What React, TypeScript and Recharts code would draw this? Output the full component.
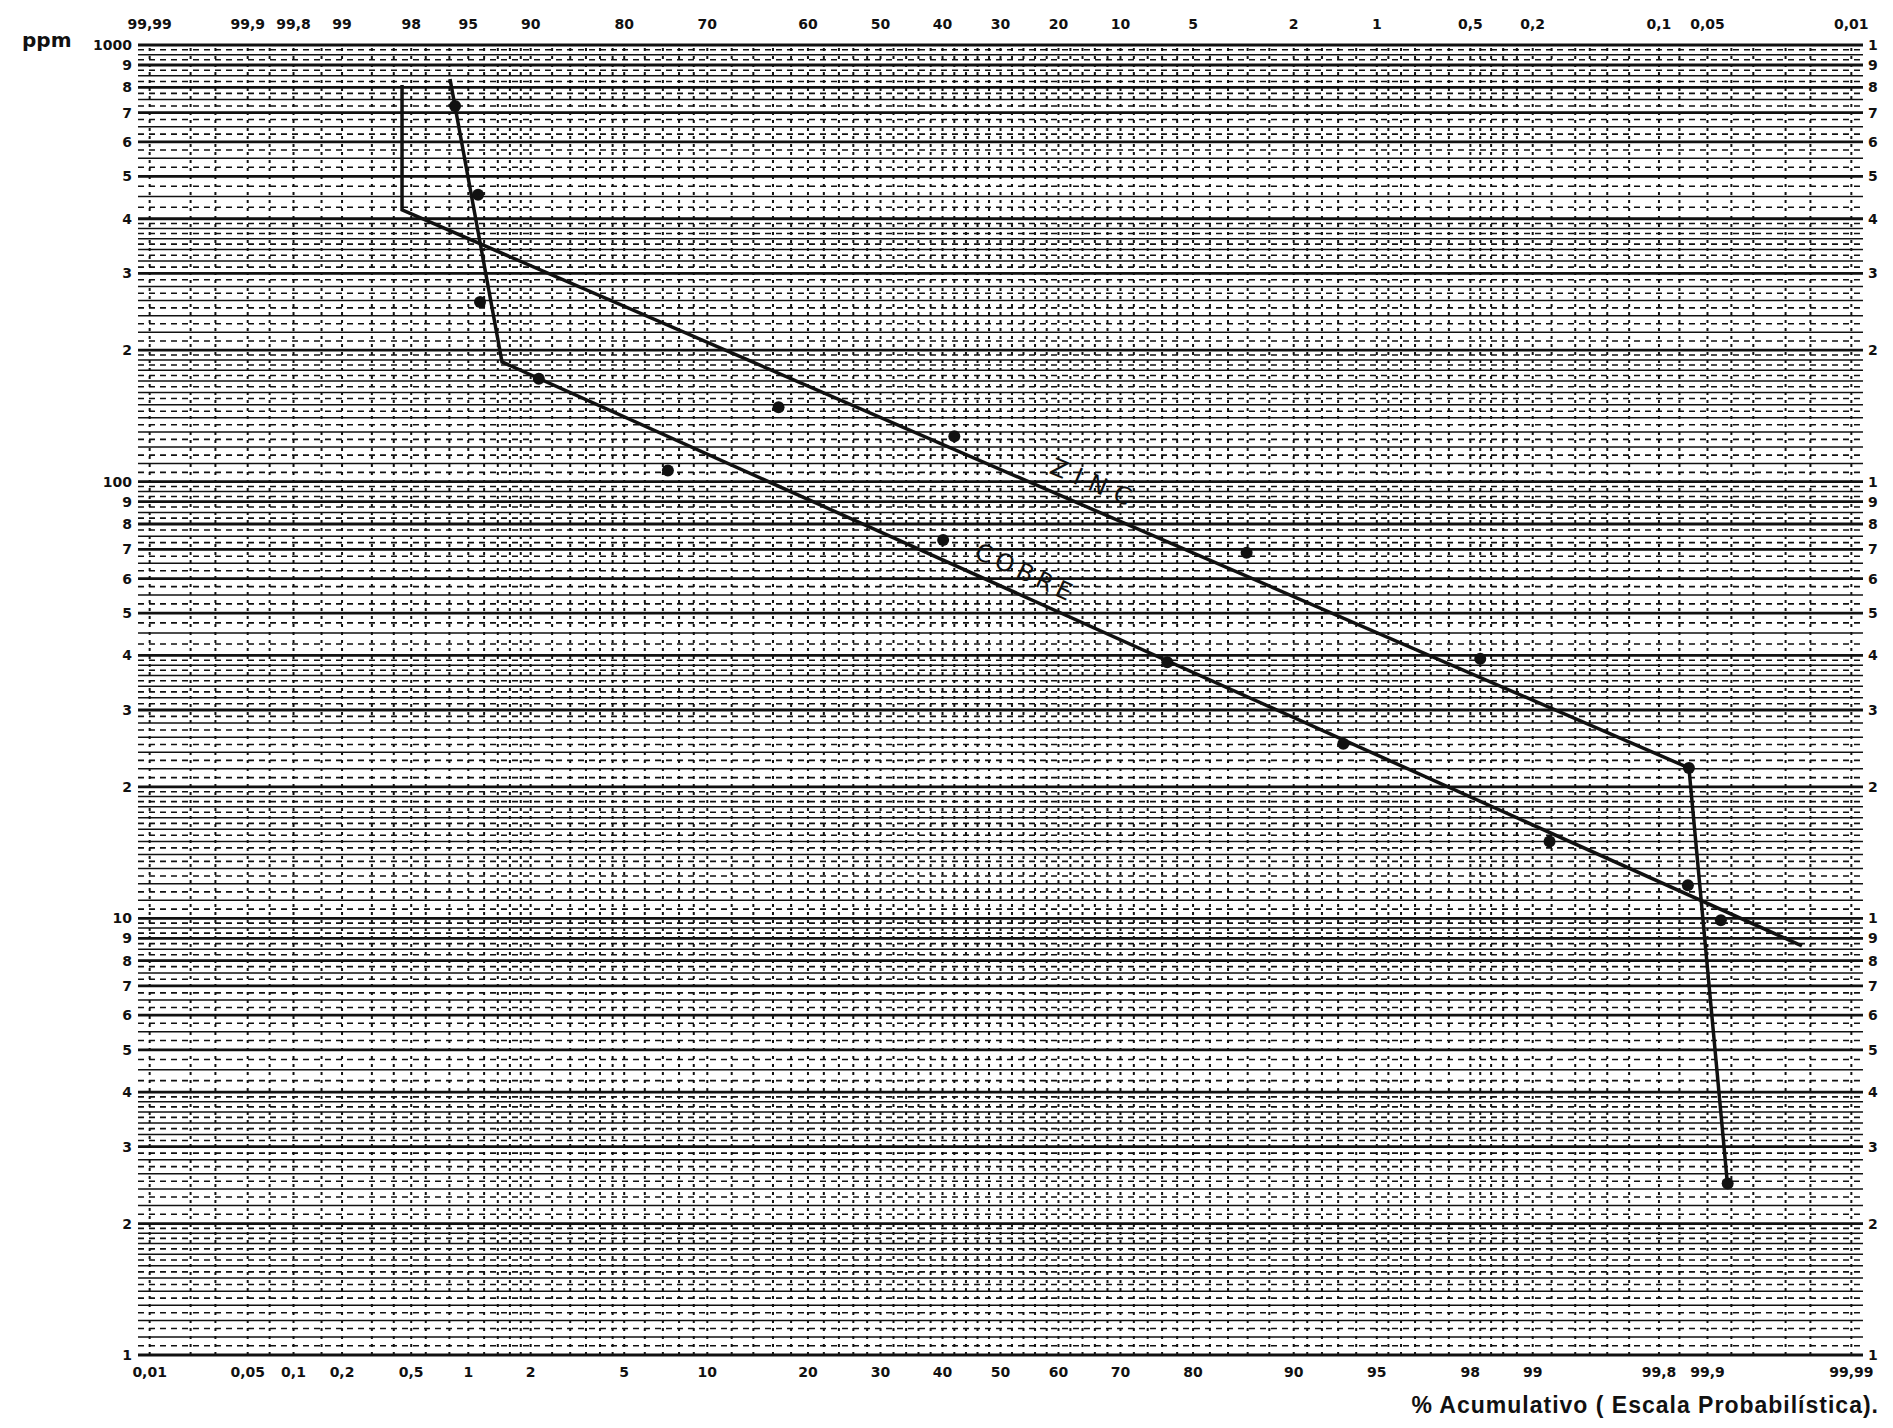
import {
  ComposedChart,
  Line,
  ReferenceDot,
  ReferenceLine,
  Scatter,
  XAxis,
  YAxis,
} from "recharts"

// cumulative %, ppm off the log axis
const zincLinePct = [0.445, 0.445, 99.869, 99.926]
const zincLinePpm = [810, 419, 22.1, 2.43]

const cobreLinePct = [0.806, 1.467, 99.977]
const cobreLinePpm = [836, 188, 8.65]

const zincPointPct = [16.6, 42.0, 85.9, 98.2, 99.869, 99.926]
const zincPointPpm = [148, 127, 68.7, 39.3, 22.1, 2.47]

const cobrePointPct = [0.856, 1.12, 1.145, 2.18, 7.3, 40.1, 76.7, 93.3, 99.18, 99.867, 99.918]
const cobrePointPpm = [725, 454, 258, 172, 106, 73.5, 38.6, 25.1, 15.0, 11.9, 9.9]

// axis labels
const bottomPct = [0.01, 0.05, 0.1, 0.2, 0.5, 1, 2, 5, 10, 20, 30, 40, 50, 60, 70, 80, 90, 95, 98, 99, 99.8, 99.9, 99.99]
const bottomLabels = ["0,01", "0,05", "0,1", "0,2", "0,5", "1", "2", "5", "10", "20", "30", "40", "50", "60", "70", "80", "90", "95", "98", "99", "99,8", "99,9", "99,99"]
const topLabels = ["99,99", "99,9", "99,8", "99", "98", "95", "90", "80", "70", "60", "50", "40", "30", "20", "10", "5", "2", "1", "0,5", "0,2", "0,1", "0,05", "0,01"]
const yTicks = [1, 2, 3, 4, 5, 6, 7, 8, 9, 10, 20, 30, 40, 50, 60, 70, 80, 90, 100, 200, 300, 400, 500, 600, 700, 800, 900, 1000]

// probability paper rulings
const decades = [1, 10, 100]
const majorMantissa = [1, 2, 3, 4, 5, 6, 7, 8, 9]
const minorMantissa = [1.1, 1.2, 1.3, 1.4, 1.5, 1.6, 1.7, 1.8, 1.9, 2.2, 2.4, 2.6, 2.8, 3.2, 3.4, 3.6, 3.8, 4.5, 5.5, 6.5, 7.5, 8.5, 9.5]
const dashMantissa = [1.05, 1.15, 1.25, 1.35, 1.45, 1.55, 1.65, 1.75, 1.85, 1.95, 2.1, 2.3, 2.5, 2.7, 2.9, 3.1, 3.3, 3.5, 3.7, 3.9, 4.25, 4.75, 5.25, 5.75, 6.25, 6.75, 7.25, 7.75, 8.25, 8.75, 9.25, 9.75]
const lowerVerticalPct = [0.01, 0.02, 0.03, 0.05, 0.07, 0.1, 0.15, 0.2, 0.3, 0.4, 0.5, 0.6, 0.8, 1, 1.2, 1.4, 1.6, 1.8, 2, 2.5, 3, 3.5, 4, 4.5, 5, 6, 7, 8, 9, 10, 12, 14, 16, 18, 20, 22, 24, 26, 28, 30, 32, 34, 36, 38, 40, 42, 44, 46, 48, 50]

// inverse normal cdf (Acklam), percent -> z
function probit(pct: number) {
  const p = pct / 100
  const a = [-39.69683028665376, 220.9460984245205, -275.9285104469687, 138.357751867269, -30.66479806614716, 2.506628277459239]
  const b = [-54.47609879822406, 161.5858368580409, -155.6989798598866, 66.80131188771972, -13.28068155288572]
  const c = [-0.007784894002430293, -0.3223964580411365, -2.400758277161838, -2.549732539343734, 4.374664141464968, 2.938163982698783]
  const d = [0.007784695709041462, 0.3224671290700398, 2.445134137142996, 3.754408661907416]
  const tail = (q: number) =>
    (((((c[0] * q + c[1]) * q + c[2]) * q + c[3]) * q + c[4]) * q + c[5]) /
    ((((d[0] * q + d[1]) * q + d[2]) * q + d[3]) * q + 1)
  if (p < 0.02425) return tail(Math.sqrt(-2 * Math.log(p)))
  if (p > 1 - 0.02425) return -tail(Math.sqrt(-2 * Math.log(1 - p)))
  const q = p - 0.5
  const r = q * q
  return (
    ((((((a[0] * r + a[1]) * r + a[2]) * r + a[3]) * r + a[4]) * r + a[5]) * q) /
    (((((b[0] * r + b[1]) * r + b[2]) * r + b[3]) * r + b[4]) * r + 1)
  )
}

const toRows = (pct: number[], ppm: number[]) => pct.map((p, i) => ({ z: probit(p), ppm: ppm[i] }))

const zincLine = toRows(zincLinePct, zincLinePpm)
const cobreLine = toRows(cobreLinePct, cobreLinePpm)
const zincPoints = toRows(zincPointPct, zincPointPpm)
const cobrePoints = toRows(cobrePointPct, cobrePointPpm)

const xTicks = bottomPct.map(probit)
const verticalZ = [...lowerVerticalPct, ...lowerVerticalPct.slice(0, -1).map((p) => 100 - p)].map(probit)
const majorY = [...decades.flatMap((d) => majorMantissa.map((m) => m * d)), 1000]
const minorY = decades.flatMap((d) => minorMantissa.map((m) => m * d))
const dashY = decades.flatMap((d) => dashMantissa.map((m) => m * d))

const Z_MAX = 3.77
const ink = "#111"
const tickFont = { fontSize: 14, fontWeight: 700, fill: ink, fontFamily: "DejaVu Sans" }

function mantissa(v: number) {
  return String(Math.round(v / Math.pow(10, Math.floor(Math.log10(v) + 1e-9))))
}

function leftLabel(v: number) {
  const isDecade = Math.abs(Math.log10(v) - Math.round(Math.log10(v))) < 1e-9
  return isDecade ? String(v) : mantissa(v)
}

const dotShape = (props: any) => <circle cx={props.cx} cy={props.cy} r={6} fill={ink} />

const curveLabel = (text: string, angle: number, spacing: number) => (props: any) => (
  <text
    x={props.cx}
    y={props.cy}
    dy={8}
    transform={`rotate(${angle} ${props.cx} ${props.cy})`}
    textAnchor="middle"
    fontSize={24}
    letterSpacing={spacing}
    fontFamily="DejaVu Sans"
    fill={ink}
  >
    {text}
  </text>
)

export default function App() {
  return (
    <div style={{ position: "relative", width: 1877, height: 1412 }}>
      <ComposedChart
        width={1877}
        height={1412}
        margin={{ top: 7, right: 0, bottom: 25, left: 60 }}
      >
        <XAxis
          dataKey="z"
          type="number"
          domain={[-Z_MAX, Z_MAX]}
          ticks={xTicks}
          interval={0}
          tickFormatter={(_v: number, i: number) => bottomLabels[i]}
          tick={tickFont}
          tickLine={false}
          axisLine={false}
          tickSize={0}
          tickMargin={12}
          height={40}
          allowDataOverflow
        />
        <XAxis
          xAxisId="top"
          dataKey="z"
          orientation="top"
          type="number"
          domain={[-Z_MAX, Z_MAX]}
          ticks={xTicks}
          interval={0}
          tickFormatter={(_v: number, i: number) => topLabels[i]}
          tick={tickFont}
          tickLine={false}
          axisLine={false}
          tickSize={0}
          tickMargin={16}
          height={30}
          allowDataOverflow
        />
        <YAxis
          type="number"
          scale="log"
          domain={[1, 1000]}
          ticks={yTicks}
          interval={0}
          tickFormatter={leftLabel}
          tick={tickFont}
          tickLine={false}
          axisLine={false}
          tickSize={0}
          tickMargin={6}
          width={70}
          allowDataOverflow
        />
        <YAxis
          yAxisId="right"
          orientation="right"
          type="number"
          scale="log"
          domain={[1, 1000]}
          ticks={yTicks}
          interval={0}
          tickFormatter={mantissa}
          tick={tickFont}
          tickLine={false}
          axisLine={false}
          tickSize={0}
          tickMargin={5}
          width={22}
          allowDataOverflow
        />

        {dashY.map((v) => (
          <ReferenceLine key={`d${v}`} y={v} stroke={ink} strokeWidth={1.6} strokeDasharray="6 5" />
        ))}
        {minorY.map((v) => (
          <ReferenceLine key={`m${v}`} y={v} stroke={ink} strokeWidth={1.5} />
        ))}
        {majorY.map((v) => (
          <ReferenceLine key={`M${v}`} y={v} stroke={ink} strokeWidth={2.8} />
        ))}
        {verticalZ.map((z) => (
          <ReferenceLine key={`v${z}`} x={z} stroke={ink} strokeWidth={2} strokeDasharray="3 5" />
        ))}

        <Line data={zincLine} dataKey="ppm" type="linear" stroke={ink} strokeWidth={3.5} dot={false} isAnimationActive={false} />
        <Line data={cobreLine} dataKey="ppm" type="linear" stroke={ink} strokeWidth={3.5} dot={false} isAnimationActive={false} />
        {/* same line bound to the top/right axes so they get a domain of their own */}
        <Line xAxisId="top" yAxisId="right" data={cobreLine} dataKey="ppm" type="linear" stroke="none" dot={false} isAnimationActive={false} />
        <Scatter data={zincPoints} dataKey="ppm" shape={dotShape} isAnimationActive={false} />
        <Scatter data={cobrePoints} dataKey="ppm" shape={dotShape} isAnimationActive={false} />

        <ReferenceDot x={probit(66.0)} y={98.9} shape={curveLabel("ZINC", 23, 9)} />
        <ReferenceDot x={probit(54.4)} y={61.8} shape={curveLabel("COBRE", 25, 5)} />
      </ComposedChart>

      <div
        style={{
          position: "absolute",
          left: 14,
          top: 20,
          fontFamily: "DejaVu Sans",
          fontWeight: 700,
          fontSize: 20,
          color: ink,
        }}
      >
        ppm
      </div>
      <div
        style={{
          position: "absolute",
          right: 6,
          top: 1384,
          fontFamily: "Liberation Sans",
          fontWeight: 700,
          fontSize: 23,
          letterSpacing: 1,
          color: ink,
          whiteSpace: "nowrap",
        }}
      >
        % Acumulativo ( Escala Probabilística).
      </div>
    </div>
  )
}
